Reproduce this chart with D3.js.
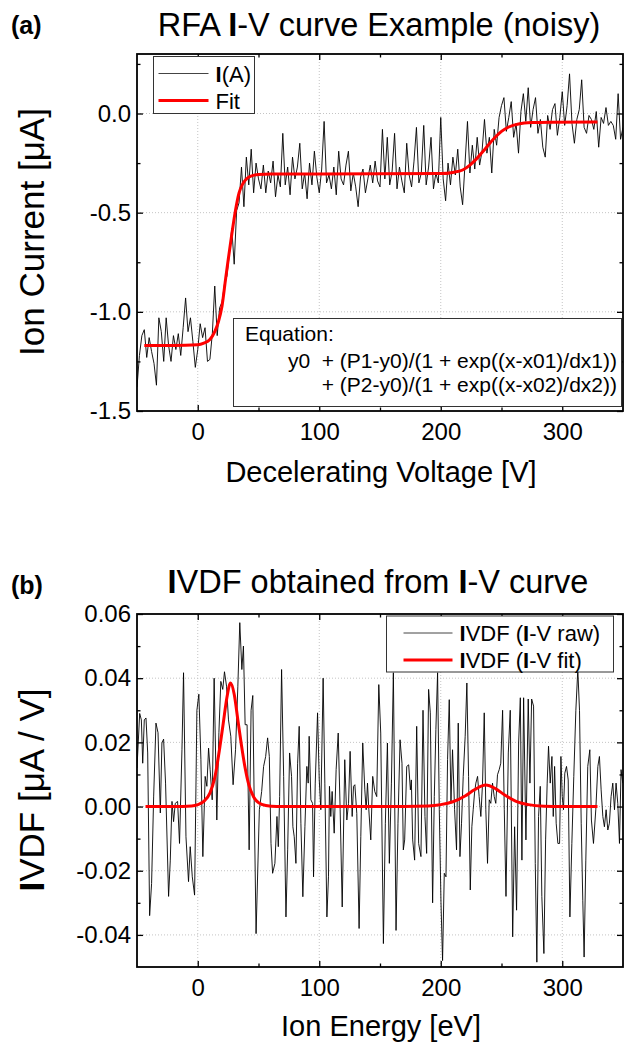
<!DOCTYPE html>
<html>
<head>
<meta charset="utf-8">
<script src="https://cdn.jsdelivr.net/npm/d3@7"></script>
<style>
  body { margin: 0; background: #fff; }
  text { font-family: "Liberation Sans", Arial, sans-serif; }
</style>
</head>
<body>
<svg id="chart" width="624" height="1042"></svg>
<script>
// ---- Panel (a): RFA I-V curve, sweep -50..350 V in 2 V steps
const ivVoltage = d3.range(-50, 351, 2);
const ivCurrent = [
  -1.38, -1.22, -1.12, -1.09, -1.23, -1.13, -1.20, -1.26, -1.37, -1.03,
  -1.10, -1.25, -1.03, -1.17, -1.25, -1.12, -1.19, -1.11, -1.22, -1.08,
  -0.93, -1.10, -1.03, -1.15, -1.28, -1.19, -1.06, -1.13, -1.08, -1.25,
  -1.24, -1.11, -0.87, -1.12, -0.98, -0.95, -0.86, -0.82, -0.71, -0.58,
  -0.76, -0.49, -0.45, -0.27, -0.47, -0.22, -0.36, -0.18, -0.40, -0.25,
  -0.33, -0.38, -0.26, -0.40, -0.29, -0.35, -0.24, -0.42, -0.31, -0.37,
  -0.10, -0.36, -0.27, -0.41, -0.22, -0.33, -0.27, -0.15, -0.38, -0.30,
  -0.43, -0.25, -0.36, -0.19, -0.32, -0.40, -0.28, -0.04, -0.35, -0.31,
  -0.38, -0.27, -0.41, -0.19, -0.33, -0.36, -0.26, -0.19, -0.39, -0.30,
  -0.37, -0.47, -0.32, -0.28, -0.40, -0.33, -0.26, -0.35, -0.24, -0.34,
  -0.37, -0.08, -0.33, -0.12, -0.36, -0.29, -0.10, -0.38, -0.27, -0.34,
  -0.40, -0.15, -0.31, -0.37, -0.24, -0.07, -0.35, -0.30, -0.06, -0.36,
  -0.27, -0.12, -0.38, -0.30, -0.35, -0.02, -0.33, -0.44, -0.25, -0.36,
  -0.22, -0.31, -0.18, -0.37, -0.46, -0.25, -0.04, -0.30, -0.16, -0.28,
  -0.12, -0.26, -0.19, -0.03, -0.20, -0.12, -0.30, -0.08, -0.16, -0.02,
  0.04, 0.08, -0.09, -0.02, 0.06, -0.12, -0.05, -0.20, 0.01, 0.10,
  -0.04, 0.13, -0.07, 0.02, 0.08, -0.10, -0.03, -0.17, -0.22, -0.01,
  -0.08, 0.02, 0.05, -0.11, -0.02, 0.11, -0.06, 0.04, 0.20, -0.05,
  -0.15, -0.03, 0.02, 0.17, -0.07, -0.10, -0.01, -0.03, -0.08, 0.01,
  -0.17, -0.02, -0.05, 0.03, -0.06, -0.04, -0.06, -0.13, 0.10, -0.13, -0.07
];
const fitVoltage = [-44, -20, 0, 5, 10, 14, 17, 20, 23, 25, 28, 31, 34, 37, 40, 45, 50, 60, 100,
  200, 210, 218, 224, 230, 237, 244, 250, 256, 264, 275, 290, 329];
const fitCurrent = [-1.17, -1.17, -1.166, -1.158, -1.14, -1.10, -1.05, -0.97, -0.83, -0.74, -0.61,
  -0.49, -0.40, -0.355, -0.33, -0.313, -0.307, -0.305, -0.305,
  -0.303, -0.297, -0.285, -0.26, -0.225, -0.175, -0.125, -0.09, -0.068, -0.053, -0.046, -0.044, -0.043];

// ---- Panel (b): IVDF derived from the curve
const ivdfEnergy = [
  -50, -47.8, -46.4, -45.3, -44, -42.6, -41.2, -39.6, -38, -36.3, -34.4, -32.7, -30.8, -29.5, -28.1,
  -26.5, -24, -22.6, -21.2, -19.9, -18.5, -16.6, -15, -13, -11.7, -9.7, -7.6, -6.2, -4.5, -2.6,
  -0.7, 0.9, 2.6, 4.2, 6.1, 7.5, 8.9, 10.2, 11.9, 13.5, 15.7, 17.4, 19, 20.6, 22, 23.7, 25.3,
  27.2, 29.1, 31.1, 33, 34.6, 36.3, 37.6, 39, 40.6, 42.3, 43.9, 45.3, 46.4, 48,
  50.7, 52.6, 54.2, 55.9, 57.5, 58.9, 60.3, 61.6, 63.5, 65.2, 66.3, 67.4, 69, 70.7, 72.6, 74,
  75.6, 77.2, 78.3, 79.4, 80.8, 82.2, 83.5, 84.9, 86.5, 88.2, 89.8, 90.9, 91.7, 93.1, 94.5,
  95.3, 96.7, 98.6, 100, 101.3, 103.2, 104.6, 106.3, 107.6, 108.4, 109.5, 110.6, 112.3, 113.9,
  115.6, 117.2, 118.9, 121, 122.7, 124.1, 125.4, 127.1, 128.2, 129.3, 130.9, 132.8, 134.2,
  135.8, 137.5, 138.6, 139.7, 140.8, 142.4, 144, 145.7, 147.3, 149, 150.6,
  152.8, 154.4, 156.1, 157.7, 159.4, 161, 163.2, 164.8, 166.5, 168.1, 169.2, 170.3, 172, 173.6,
  175, 175.8, 176.9, 178.5, 180.2, 181.8, 183.7, 185.4, 187, 188.4, 190, 191.4, 193.3, 194.7,
  196, 197.4, 198.8, 200.2, 201.5, 202.9, 204.3, 205.6, 207, 208.4, 209.7, 211.4, 213, 214.4,
  215.8, 217.1, 218.5, 220.1, 221.5, 222.9, 224.3, 225.6, 226.7, 227.8, 228.9, 230.3, 231.6,
  233, 234.4, 235.8, 237.1, 238.5, 239.9, 241.2, 242.6, 244, 245.3, 246.7, 248.1, 249.4, 250.9,
  252.3, 253.7, 255.6, 257.2, 259.2, 260.8, 262.4, 264.1, 265.5, 266.8, 268.2, 270.1, 272,
  273.4, 274.8, 276.4, 277.8, 279.1, 280.5, 281.9, 283.2, 284.9, 286.3, 287.6, 288.7, 290.1,
  291.5, 292.6, 293.7, 295, 296.4, 297.8, 298.9, 300, 301, 302.1, 303.5, 304.9, 306.3, 307.9,
  309.5, 311.2, 312.8, 314.2, 315.6, 316.9, 318, 319.4, 321, 322.7, 324, 325.7, 327.6, 329.3,
  330.6, 332, 333.4, 334.7, 336.1, 337.5, 338.8, 340.2, 341.6, 343, 344.3, 345.7, 347.1, 348.4, 349.8
];
const ivdfRaw = [
  0.012, 0.029, 0.027, 0.0135, 0.027, 0.0276, 0.0167, -0.034, -0.024, 0.003, 0.026, 0.023, -0.002, 0.0198, 0.021,
  0.0073, -0.028, -0.0167, 0.0016, -0.0047, 0.001, 0.0016, -0.0115, 0.0177, 0.0417, -0.0094, -0.0234, -0.0125, -0.0219, -0.0276,
  0.030, 0.035, 0.0146, -0.0156, 0.0094, 0.0063, 0.0182, 0.0115, 0.0021, 0.040, -0.0042, 0.023, 0.039, 0.0365, 0.042, 0.0375, 0.027,
  0.0219, 0.0068, 0.0177, 0.0375, 0.0573, 0.0427, 0.050, 0.0255, 0.0255, -0.0135, 0.030, 0.0346, 0.003, -0.0396,
  -0.001, 0.0047, 0.0125, 0.0156, 0.0214, 0.0156, -0.0115, -0.0208, -0.0177, -0.0031, -0.0125, 0.0031, 0.0427, 0.0094, -0.0344, -0.0135,
  0.0167, 0.0094, -0.0063, -0.0094, -0.0177, 0.0135, 0.025, -0.0052, -0.0281, -0.0063, 0.0125, 0.0073, 0.0219, 0.0021, 0.001,
  -0.0219, 0.0073, 0.0292, 0.0083, -0.001, 0.040, 0.0073, -0.0344, -0.0219, 0.0063, -0.0031, 0.0047, -0.0083, 0.0115,
  0.0229, -0.001, -0.0313, 0.0146, -0.0042, 0.001, 0.0172, -0.0031, 0.0063, 0.0068, -0.0021, -0.038, -0.0094,
  0.0198, 0.0052, -0.001, 0.0073, -0.001, -0.0104, 0.0094, 0.0047, 0.0031, 0.038, 0.0229,
  -0.0427, -0.0052, 0.0198, -0.0177, 0.0073, 0.0417, -0.0386, -0.0052, 0.0208, 0.0135, -0.0135, -0.0104, 0.0125, 0.013,
  0.0052, 0.0083, -0.0104, -0.0167, 0.025, -0.0115, -0.0156, 0.030, -0.0031, -0.0146, 0.0365, 0.0292, -0.030, 0.0031,
  0.024, 0.0417, -0.001, -0.030, -0.048, -0.0208, -0.0219, 0.0146, 0.0333, 0.001, 0.0177, -0.001, -0.0135, 0.026,
  -0.0156, -0.0052, 0.0094, 0.0219, 0.0385, 0.0094, -0.026, -0.0063, -0.001, 0.0042, 0.0073, 0.0094, 0.0031,
  -0.0031, 0.0073, 0.0292, -0.001, -0.0177, 0.0021, 0.001, 0.0073, 0.0031, 0.001, 0.0099, 0.0115, 0.0135, 0.030,
  -0.001, -0.028, 0.0167, 0.030, -0.0406, -0.0063, -0.0323, 0.0198, 0.0339, -0.0167, 0.0339, -0.0104, 0.0335,
  0.0073, 0.0335, 0.0313, -0.0177, -0.0485, -0.0031, 0.0063, -0.028, -0.0458, -0.0104, 0.0073, 0.0188, 0.0073,
  0.0156, -0.0031, 0.0125, -0.0052, -0.0115, -0.0115, 0.0156, 0.0031, -0.001, 0.0104, 0.0125, 0.0083, -0.0344, -0.0115,
  0.0094, 0.030, 0.0427, 0.030, -0.0052, -0.0292, -0.0469, -0.0167, 0.0125, 0.0177, -0.0042, -0.0115, -0.001, 0.0125,
  0.0156, 0.0052, -0.0031, -0.0063, -0.001, -0.0073, -0.0052, 0.0031, 0.0073, -0.001, 0.0073, 0.001, -0.0115, 0.0115, 0.0073
];
const ivdfFitEnergy = [-43, -20, -5, 0, 5, 10, 14, 18, 21, 24, 27, 30, 33, 36, 39, 42, 46, 50, 56, 65, 100, 150,
  190, 200, 210, 220, 228, 237, 245, 253, 262, 272, 285, 300, 329];
const ivdfFit = [0, 0, 0.0002, 0.0006, 0.0016, 0.0042, 0.009, 0.018, 0.026, 0.034, 0.0385, 0.035, 0.027, 0.019,
  0.012, 0.0068, 0.003, 0.0012, 0.0003, 0, 0, 0,
  0.0002, 0.0006, 0.0015, 0.0033, 0.0053, 0.0067, 0.0056, 0.0035, 0.0016, 0.0006, 0.0001, 0, 0];

// ---- Axis ticks
const xMajor = [0, 100, 200, 300];
const xMinor = [50, 150, 250];
const yMajorA = [0, -0.5, -1.0, -1.5];
const yMinorA = [0.25, -0.25, -0.75, -1.25];
const yMajorB = [0.06, 0.04, 0.02, 0.0, -0.02, -0.04];
const yMinorB = [0.05, 0.03, 0.01, -0.01, -0.03];

const FONT = '"Liberation Sans", Arial, sans-serif';
const svg = d3.select('#chart');

function drawFrame(g, x, y, yMajor, yMinor, yFmt, id) {
  const [x0, x1] = x.range();
  const [y0, y1] = y.range(); // y0 bottom, y1 top

  // dotted grid
  g.append('g').selectAll('line').data(xMajor).join('line')
    .attr('x1', d => x(d)).attr('x2', d => x(d)).attr('y1', y0).attr('y2', y1)
    .attr('stroke', '#c4c4c4').attr('stroke-dasharray', '1,2');
  g.append('g').selectAll('line').data(yMajor.filter(d => y(d) > y1 + 1 && y(d) < y0 - 1)).join('line')
    .attr('y1', d => y(d)).attr('y2', d => y(d)).attr('x1', x0).attr('x2', x1)
    .attr('stroke', '#c4c4c4').attr('stroke-dasharray', '1,2');

  g.append('clipPath').attr('id', id).append('rect')
    .attr('x', x0).attr('y', y1).attr('width', x1 - x0).attr('height', y0 - y1);

  function axis(gen, vals, size, translate, labels, pad, fmt) {
    const a = g.append('g').attr('transform', translate)
      .call(gen.tickValues(vals).tickSizeInner(size).tickSizeOuter(0).tickPadding(pad)
        .tickFormat(labels ? fmt : ''));
    a.select('.domain').remove();
    a.selectAll('line').attr('stroke-width', 1.3);
    a.attr('font-size', 24).attr('font-family', FONT);
    return a;
  }
  axis(d3.axisBottom(x), xMajor, -6, `translate(0,${y0})`, true, 12, d => d);
  axis(d3.axisBottom(x), xMinor, -3.5, `translate(0,${y0})`, false, 0);
  axis(d3.axisTop(x), xMajor, -6, `translate(0,${y1})`, false, 0);
  axis(d3.axisTop(x), xMinor, -3.5, `translate(0,${y1})`, false, 0);
  axis(d3.axisLeft(y), yMajor, -6, `translate(${x0},0)`, true, 6, yFmt);
  axis(d3.axisLeft(y), yMinor, -3.5, `translate(${x0},0)`, false, 0);
  axis(d3.axisRight(y), yMajor, -6, `translate(${x1},0)`, false, 0);
  axis(d3.axisRight(y), yMinor, -3.5, `translate(${x1},0)`, false, 0);
}

function boxFrame(g, x, y) {
  const [x0, x1] = x.range();
  const [y0, y1] = y.range();
  g.append('rect').attr('x', x0).attr('y', y1).attr('width', x1 - x0).attr('height', y0 - y1)
    .attr('fill', 'none').attr('stroke', '#000').attr('stroke-width', 1.8);
}

// text helper with optional bold "I" parts: parts = [[text, bold], ...]
function richText(g, parts, attrs) {
  const t = g.append('text').attr('font-family', FONT).style('white-space', 'pre');
  Object.entries(attrs).forEach(([k, v]) => t.attr(k, v));
  parts.forEach(([s, b]) => t.append('tspan').text(s).attr('font-weight', b ? 'bold' : null));
  return t;
}

function legend(g, box, rows) {
  g.append('rect').attr('x', box.x).attr('y', box.y).attr('width', box.w).attr('height', box.h)
    .attr('fill', '#fff').attr('stroke', '#333').attr('stroke-width', 1);
  rows.forEach((r, i) => {
    const cy = box.y + box.row0 + i * box.step;
    g.append('line').attr('x1', box.x + box.l0).attr('x2', box.x + box.l1).attr('y1', cy).attr('y2', cy)
      .attr('stroke', r.color).attr('stroke-width', r.width);
    richText(g, r.label, { x: box.x + box.tx, y: cy + 8, 'font-size': 22 });
  });
}

// ================= Panel (a)
const xA = d3.scaleLinear().domain([-50, 350]).range([137, 623]);
const yA = d3.scaleLinear().domain([-1.5, 0.3]).range([411, 54]);
const gA = svg.append('g');
drawFrame(gA, xA, yA, yMajorA, yMinorA, d => d.toFixed(1), 'clipA');

const lineA = d3.line().x((d, i) => xA(ivVoltage[i])).y(d => yA(d));
gA.append('path').datum(ivCurrent).attr('clip-path', 'url(#clipA)')
  .attr('d', lineA).attr('fill', 'none').attr('stroke', '#000').attr('stroke-width', 0.9);
const fitLineA = d3.line().curve(d3.curveMonotoneX).x((d, i) => xA(fitVoltage[i])).y(d => yA(d));
gA.append('path').datum(fitCurrent).attr('d', fitLineA)
  .attr('fill', 'none').attr('stroke', '#ff0000').attr('stroke-width', 3);

legend(gA, { x: 153.5, y: 56.5, w: 101, h: 57, row0: 17, step: 27, l0: 5, l1: 55, tx: 62 }, [
  { color: '#444', width: 1, label: [['I', true], ['(A)', false]] },
  { color: '#ff0000', width: 3, label: [['Fit', false]] }
]);

// equation box
gA.append('rect').attr('x', 233.5).attr('y', 318.5).attr('width', 388).attr('height', 88)
  .attr('fill', '#fff').attr('stroke', '#333').attr('stroke-width', 1);
richText(gA, [['Equation:', false]], { x: 245, y: 341, 'font-size': 21 });
richText(gA, [['y0  + (P1-y0)/(1 + exp((x-x01)/dx1))', false]],
  { x: 617, y: 368, 'font-size': 21, 'text-anchor': 'end' });
richText(gA, [['+ (P2-y0)/(1 + exp((x-x02)/dx2))', false]],
  { x: 617, y: 392, 'font-size': 21, 'text-anchor': 'end' });
boxFrame(gA, xA, yA);

richText(svg, [['RFA ', false], ['I', true], ['-V curve Example (noisy)', false]],
  { x: 379, y: 36, 'font-size': 32.5, 'text-anchor': 'middle' });
richText(svg, [['(a)', true]], { x: 11, y: 34, 'font-size': 25 });
richText(svg, [['Decelerating Voltage [V]', false]],
  { x: 381, y: 482, 'font-size': 29, 'text-anchor': 'middle' });
richText(svg, [['Ion Current [μA]', false]],
  { transform: 'translate(44,232) rotate(-90)', 'font-size': 35, 'text-anchor': 'middle' });

// ================= Panel (b)
const xB = d3.scaleLinear().domain([-50, 350]).range([137, 623]);
const yB = d3.scaleLinear().domain([-0.05, 0.06]).range([967, 614]);
const gB = svg.append('g');
drawFrame(gB, xB, yB, yMajorB, yMinorB, d => d.toFixed(2), 'clipB');

const lineB = d3.line().x((d, i) => xB(ivdfEnergy[i])).y(d => yB(d));
gB.append('path').datum(ivdfRaw).attr('clip-path', 'url(#clipB)')
  .attr('d', lineB).attr('fill', 'none').attr('stroke', '#000').attr('stroke-width', 0.9);

legend(gB, { x: 386.5, y: 616, w: 227, h: 56, row0: 17, step: 27, l0: 17, l1: 66, tx: 73 }, [
  { color: '#444', width: 1, label: [['I', true], ['VDF (', false], ['I', true], ['-V raw)', false]] },
  { color: '#ff0000', width: 3, label: [['I', true], ['VDF (', false], ['I', true], ['-V fit)', false]] }
]);

const fitLineB = d3.line().curve(d3.curveMonotoneX).x((d, i) => xB(ivdfFitEnergy[i])).y(d => yB(d));
gB.append('path').datum(ivdfFit).attr('d', fitLineB)
  .attr('fill', 'none').attr('stroke', '#ff0000').attr('stroke-width', 3);
boxFrame(gB, xB, yB);

richText(svg, [['I', true], ['VDF obtained from ', false], ['I', true], ['-V curve', false]],
  { x: 378, y: 593, 'font-size': 32.5, 'text-anchor': 'middle' });
richText(svg, [['(b)', true]], { x: 11, y: 594, 'font-size': 25 });
richText(svg, [['Ion Energy [eV]', false]],
  { x: 381, y: 1036, 'font-size': 29, 'text-anchor': 'middle' });
richText(svg, [['I', true], ['VDF [μA / V]', false]],
  { transform: 'translate(44,790) rotate(-90)', 'font-size': 35, 'text-anchor': 'middle' });
</script>
</body>
</html>
